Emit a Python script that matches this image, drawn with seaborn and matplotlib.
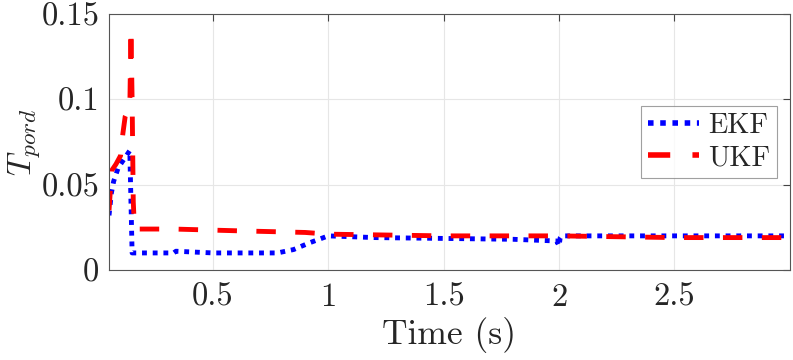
import numpy as np
import pandas as pd
import matplotlib
matplotlib.use("Agg")
import matplotlib.pyplot as plt
import seaborn as sns

# EKF estimate
t_ekf = [0.05, 0.06, 0.07, 0.09, 0.11, 0.13, 0.14, 0.145, 0.15, 0.2, 0.33, 0.34, 0.5, 0.7, 0.78,
         0.85, 0.92, 0.98, 1.0, 1.2, 1.5, 1.8, 1.99, 2.0, 2.005, 2.01, 2.3, 2.6, 3.0]
v_ekf = [0.032, 0.045, 0.052, 0.060, 0.064, 0.068, 0.070, 0.040, 0.010, 0.010, 0.010, 0.011, 0.010, 0.010, 0.010,
         0.012, 0.016, 0.019, 0.020, 0.019, 0.0185, 0.018, 0.017, 0.014, 0.019, 0.020, 0.020, 0.020, 0.020]

# UKF estimate
t_ukf = [0.05, 0.055, 0.06, 0.08, 0.10, 0.11, 0.12, 0.13, 0.14, 0.145, 0.15, 0.155, 0.16, 0.17,
         0.33, 0.6, 0.9, 1.0, 1.5, 2.0, 2.5, 3.0]
v_ukf = [0.035, 0.045, 0.058, 0.062, 0.067, 0.080, 0.090, 0.093, 0.095, 0.141, 0.100, 0.040, 0.025, 0.024,
         0.024, 0.023, 0.022, 0.021, 0.020, 0.020, 0.019, 0.019]

df = pd.concat([
    pd.DataFrame({"t": t_ekf, "v": v_ekf, "method": "EKF"}),
    pd.DataFrame({"t": t_ukf, "v": v_ukf, "method": "UKF"}),
])

sns.set_style("white")
plt.rcParams["font.family"] = ["cmr10", "DejaVu Serif"]
plt.rcParams["mathtext.fontset"] = "cm"
plt.rcParams["axes.formatter.use_mathtext"] = True

fig, ax = plt.subplots(figsize=(7.93, 3.60), dpi=100)
sns.lineplot(data=df, x="t", y="v", hue="method", style="method",
             palette={"EKF": "#0000ff", "UKF": "#ff0000"},
             dashes={"EKF": (1, 1.2), "UKF": (4, 4)},
             linewidth=3.5, sort=False, estimator=None, ax=ax)
for ln in ax.get_lines():
    ln.set_dash_capstyle("butt")

ax.set_xlim(0.05, 3.0)
ax.set_ylim(0, 0.15)
ax.set_xticks([0.5, 1, 1.5, 2, 2.5])
ax.set_xticklabels(["0.5", "1", "1.5", "2", "2.5"])
ax.set_yticks([0, 0.05, 0.1, 0.15])
ax.set_yticklabels(["0", "0.05", "0.1", "0.15"])
ax.tick_params(labelsize=23.5, direction="in", length=5, color="#444444",
               top=True, right=True)
ax.tick_params(axis="x", pad=9)
ax.tick_params(axis="y", pad=7)
ax.grid(True, color="#e6e6e6", linewidth=0.8)
for s in ax.spines.values():
    s.set_color("#555555")
    s.set_linewidth(0.8)
ax.set_xlabel("Time (s)", fontsize=25.5, labelpad=4)
ax.set_ylabel(r"$T_{pord}$", fontsize=24, va="center")
ax.yaxis.set_label_coords(-0.125, 0.5)
leg = ax.legend(loc="center right", bbox_to_anchor=(0.981, 0.5), fontsize=20.5, frameon=True,
                fancybox=False, edgecolor="#888888", handlelength=1.8, handletextpad=0.3,
                borderpad=0.25, labelspacing=0.2, borderaxespad=0)
leg.get_frame().set_linewidth(0.8)
for ln in leg.get_lines():
    ln.set_linewidth(4)

fig.subplots_adjust(left=0.1375, right=0.996, top=0.961, bottom=0.25)
fig.savefig("out.png", dpi=100)
